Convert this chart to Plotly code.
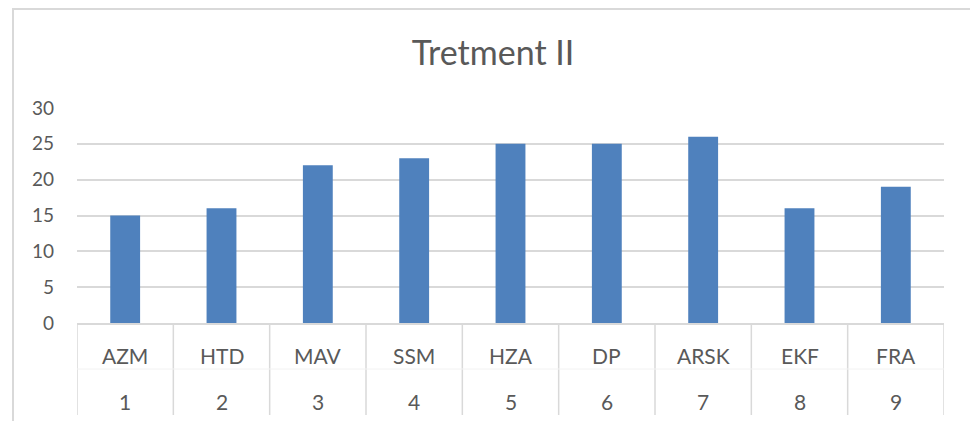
import plotly.graph_objects as go

codes = ["AZM", "HTD", "MAV", "SSM", "HZA", "DP", "ARSK", "EKF", "FRA"]
numbers = ["1", "2", "3", "4", "5", "6", "7", "8", "9"]
values = [15, 16, 22, 23, 25, 25, 26, 16, 19]
y_ticks = [0, 5, 10, 15, 20, 25, 30]
title_text = "Tretment II"

W, H = 970, 421
L, R, T, B = 77, 26, 108, 98
pw, ph = W - L - R, H - T - B

def px_x(px):
    return (px - L) / pw

def px_y(py):
    return (H - B - py) / ph

FONT = "Lato, Calibri, Carlito, sans-serif"
GRAY_TXT = "#595959"
GRID = "#d9d9d9"

xs = list(range(len(codes)))
fig = go.Figure(go.Bar(x=xs, y=values, marker=dict(color="#4f81bd", line=dict(width=0)),
                       width=0.31, hoverinfo="y"))

shapes = []
# outer chart frame
shapes.append(dict(type="rect", xref="paper", yref="paper",
                   x0=px_x(13), x1=px_x(990), y0=px_y(9), y1=px_y(440),
                   line=dict(color=GRID, width=2), layer="below"))
# category table vertical dividers
for i in range(len(codes) + 1):
    shapes.append(dict(type="line", xref="x", yref="paper",
                       x0=i - 0.5, x1=i - 0.5, y0=0, y1=px_y(415),
                       line=dict(color=GRID, width=1.5)))
# faint row separator
shapes.append(dict(type="line", xref="paper", yref="paper",
                   x0=0, x1=1, y0=px_y(369), y1=px_y(369),
                   line=dict(color="#f2f2f2", width=1)))

annotations = []
for i, (c, n) in enumerate(zip(codes, numbers)):
    annotations.append(dict(x=i, y=px_y(355), xref="x", yref="paper", text=c,
                            showarrow=False, yanchor="middle",
                            font=dict(family=FONT, size=21, color=GRAY_TXT)))
    annotations.append(dict(x=i, y=px_y(401), xref="x", yref="paper", text=n,
                            showarrow=False, yanchor="middle",
                            font=dict(family=FONT, size=21, color=GRAY_TXT)))

fig.update_layout(
    width=W, height=H,
    margin=dict(l=L, r=R, t=T, b=B, pad=0),
    paper_bgcolor="white", plot_bgcolor="white",
    showlegend=False,
    title=dict(text=title_text, x=493 / W, xref="container", xanchor="center",
               y=1 - 53 / H, yref="container", yanchor="middle",
               font=dict(family=FONT, size=34, color=GRAY_TXT)),
    xaxis=dict(range=[-0.5, len(codes) - 0.5], showticklabels=False, showgrid=False,
               zeroline=False, showline=True, linecolor=GRID, linewidth=1.5, ticks=""),
    yaxis=dict(range=[0, 30], tickvals=y_ticks, showgrid=True, gridcolor=GRID, gridwidth=1.5,
               zeroline=False, showline=False, ticks="", ticklabelstandoff=22,
               tickfont=dict(family=FONT, size=19, color=GRAY_TXT)),
    shapes=shapes, annotations=annotations,
)

fig.write_html("out.html", config={"displayModeBar": False},
               post_script="document.body.style.margin='0';document.body.style.overflow='hidden';")
